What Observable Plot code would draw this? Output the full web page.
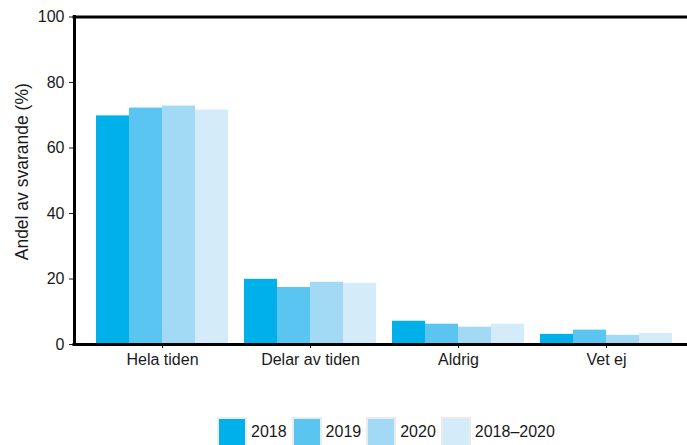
<!DOCTYPE html>
<html>
<head>
<meta charset="utf-8">
<script src="https://cdn.jsdelivr.net/npm/d3@7"></script>
<script src="https://cdn.jsdelivr.net/npm/@observablehq/plot@0.6"></script>
<style>
  body { margin: 0; background: white; font-family: "Liberation Sans", Arial, sans-serif; }
  #wrap { position: relative; width: 687px; height: 445px; overflow: hidden; }
  #wrap > svg { position: absolute; left: 0; top: 0; }
  #legend { position: absolute; left: 219px; top: 419px; }
  .lg-swatches { margin: 0 !important; min-height: 0 !important; }
  .lg-swatch { margin-right: 7px !important; color: #1a1a1a; }
  .lg-swatch > svg { margin-right: 6px !important; outline: 2px solid #ebebeb; outline-offset: 0; }
</style>
</head>
<body>
<div id="wrap"></div>
<script>
const categories = ["Hela tiden", "Delar av tiden", "Aldrig", "Vet ej"];
const series = ["2018", "2019", "2020", "2018–2020"];
const v2018 = [69.8, 19.9, 7.1, 3.1];
const v2019 = [72.2, 17.4, 6.2, 4.4];
const v2020 = [72.8, 19.0, 5.3, 2.8];
const vAll  = [71.6, 18.7, 6.2, 3.4];
const colors = ["#00b0ea", "#5bc5f2", "#a2daf6", "#d4ebfa"];
const yTicks = [0, 20, 40, 60, 80, 100];
const yDomain = [0, 100];
const yLabel = "Andel av svarande (%)";

const valueSets = [v2018, v2019, v2020, vAll];
const rows = [];
categories.forEach((c, i) => series.forEach((s, j) => rows.push({category: c, series: s, value: valueSets[j][i]})));

const W = 687, H = 395, MT = 16.5, MB = 51;
const font = "'Liberation Sans', Arial, sans-serif";

const bars = Plot.plot({
  width: W, height: H,
  marginTop: MT, marginBottom: MB, marginLeft: 95, marginRight: 14,
  style: {fontFamily: font, fontSize: "16px", background: "transparent", color: "#1a1a1a"},
  fx: {domain: categories, paddingInner: 14 / 148, paddingOuter: 0},
  x: {domain: series, padding: 0, axis: null},
  y: {domain: yDomain, axis: null},
  color: {domain: series, range: colors},
  marks: [
    Plot.barY(rows, {fx: "category", x: "series", y: "value", fill: "series"}),
    Plot.axisFx({anchor: "bottom", tickSize: 4, tickPadding: 5, fontSize: 16, label: null, stroke: "#111"})
  ]
});

const frame = Plot.plot({
  width: W, height: H,
  marginTop: MT, marginBottom: MB, marginLeft: 74, marginRight: 0,
  style: {fontFamily: font, fontSize: "16px", background: "transparent", color: "#1a1a1a"},
  x: {domain: [0, 1], axis: null},
  y: {domain: yDomain},
  marks: [
    Plot.axisY({ticks: yTicks, tickSize: 5, tickPadding: 5, fontSize: 16, label: null}),
    Plot.text([yLabel], {frameAnchor: "left", textAnchor: "middle", lineAnchor: "middle", rotate: -90,
      fontSize: 17.5, dx: -52, dy: -9, fill: "#1a1a1a"}),
    Plot.ruleY(yDomain, {stroke: "black", strokeWidth: 3, strokeLinecap: "square"}),
    Plot.ruleX([0], {stroke: "black", strokeWidth: 3, strokeLinecap: "square"})
  ]
});

const wrap = document.getElementById("wrap");
wrap.appendChild(bars);
wrap.appendChild(frame);

const legend = Plot.legend({
  color: {domain: series, range: colors, type: "ordinal"},
  legend: "swatches", swatchSize: 26, className: "lg",
  style: {fontFamily: font, fontSize: "16px"}
});
const lg = document.createElement("div");
lg.id = "legend";
lg.appendChild(legend);
wrap.appendChild(lg);
</script>
</body>
</html>
